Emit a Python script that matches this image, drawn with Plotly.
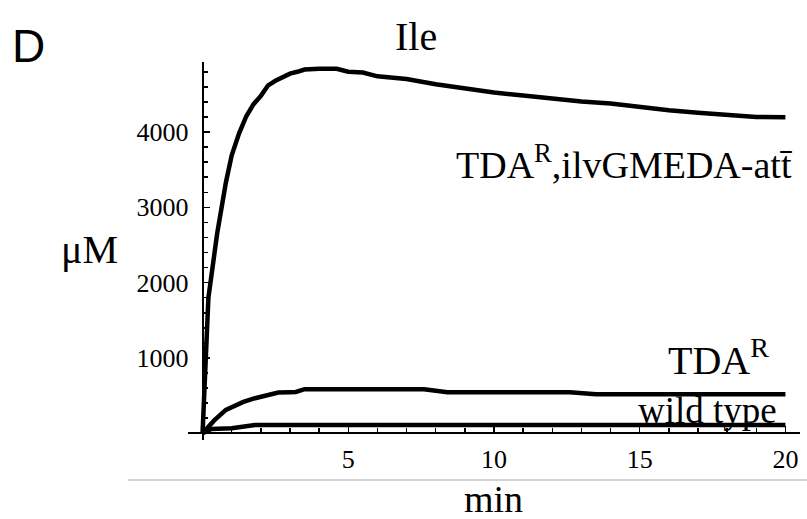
import plotly.graph_objects as go

# ---- data ----
t_att = [0, 0.2, 0.5, 0.8, 1.0, 1.25, 1.5, 1.75, 2.0, 2.25, 2.5, 2.75, 3.0, 3.25, 3.5,
         4.0, 4.6, 5.0, 5.5, 6.0, 7.0, 8.0, 9.0, 10.0, 11.0, 12.0, 13.0, 14.0, 15.0,
         16.0, 17.0, 18.0, 19.0, 20.0]
v_att = [0, 1800, 2650, 3330, 3690, 3980, 4210, 4370, 4480, 4620, 4680, 4735, 4775, 4800, 4830,
         4840, 4840, 4800, 4790, 4740, 4705, 4635, 4575, 4525, 4485, 4440, 4405, 4380, 4330,
         4290, 4255, 4225, 4200, 4195]

t_tda = [0, 0.4, 0.8, 1.0, 1.4, 1.8, 2.2, 2.6, 3.0, 3.2, 3.5, 7.6, 8.4, 12.6, 13.5, 20.0]
v_tda = [0, 170, 310, 350, 415, 465, 505, 540, 545, 548, 585, 585, 545, 545, 518, 518]

t_wt = [0, 0.3, 1.0, 1.8, 20.0]
v_wt = [0, 55, 65, 110, 110]

x_ticks = [5, 10, 15, 20]
y_ticks = [1000, 2000, 3000, 4000]

title_text = "Ile"
x_label = "min"
y_label = "\u03bcM"
panel_letter = "D"
lab_att = "TDA<sup>R</sup>,ilvGMEDA-att\u0304"
lab_tda = "TDA<sup>R</sup>"
lab_wt = "wild type"

W, H = 807, 519
SERIF = "Liberation Serif, Times New Roman, serif"


def px(x):
    return x / W


def py(y):
    return (H - y) / H


fig = go.Figure()
for tx, vy in [(t_att, v_att), (t_tda, v_tda), (t_wt, v_wt)]:
    fig.add_trace(go.Scatter(x=tx, y=vy, mode="lines",
                             line=dict(color="black", width=4.5),
                             showlegend=False, hoverinfo="skip"))

fig.update_layout(
    width=W, height=H,
    margin=dict(l=0, r=0, t=0, b=0),
    paper_bgcolor="white", plot_bgcolor="white",
    xaxis=dict(
        domain=[px(188), px(800)], range=[-0.5, 20.5],
        anchor="free", position=py(433),
        showline=True, linecolor="black", linewidth=2,
        showgrid=False, zeroline=False,
        ticks="inside", tickvals=x_ticks, ticklen=6, tickwidth=1.5, tickcolor="black",
        minor=dict(dtick=1, tick0=0, ticks="inside", ticklen=4, tickwidth=1.5, tickcolor="black"),
        tickfont=dict(family=SERIF, size=26, color="black"),
        ticklabelstandoff=3,
        automargin=False, fixedrange=True,
    ),
    yaxis=dict(
        domain=[py(440), py(62)], range=[-90, 4930],
        anchor="free", position=px(202.6),
        showline=True, linecolor="black", linewidth=2,
        showgrid=False, zeroline=False,
        ticks="inside", tickvals=y_ticks, ticklen=6, tickwidth=1.5, tickcolor="black",
        minor=dict(dtick=200, tick0=0, ticks="inside", ticklen=4, tickwidth=1.5, tickcolor="black"),
        tickfont=dict(family=SERIF, size=26, color="black"),
        ticklabelstandoff=8,
        automargin=False, fixedrange=True,
    ),
    shapes=[dict(type="line", xref="paper", yref="paper",
                 x0=px(128), x1=1.0, y0=py(480), y1=py(480),
                 line=dict(color="#d3d3d3", width=2))],
)

ann = [
    (panel_letter, 28, 46, "Liberation Sans, Arial, sans-serif", 46),
    (title_text, 416, 37, SERIF, 40),
    (y_label, 89, 249, SERIF, 40),
    (x_label, 493, 499, SERIF, 38),
    (lab_att, 624, 162, SERIF, 38),
    (lab_tda, 718, 357, SERIF, 40),
    (lab_wt, 707, 410, SERIF, 37),
]
for text, x, y, fam, size in ann:
    fig.add_annotation(text=text, x=px(x), y=py(y), xref="paper", yref="paper",
                       xanchor="center", yanchor="middle", showarrow=False,
                       font=dict(family=fam, size=size, color="black"))

fig.write_html("out.html",
               config={"displayModeBar": False, "staticPlot": True},
               post_script="document.body.style.margin='0';document.body.style.overflow='hidden';")
